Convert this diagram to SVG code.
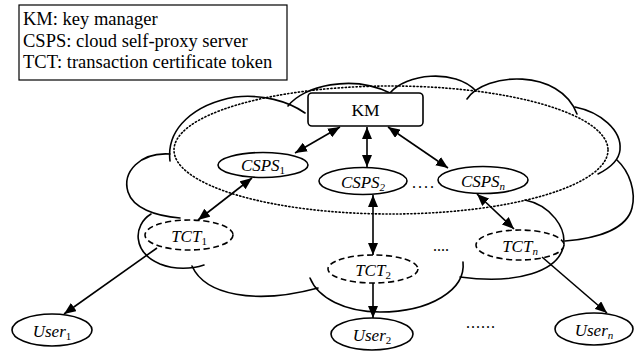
<svg xmlns="http://www.w3.org/2000/svg" width="637" height="354" viewBox="0 0 637 354" font-family="Liberation Serif, 'Times New Roman', serif">
  <style>
    .cloud { fill: none; stroke: #000; stroke-width: 1.6; stroke-linecap: round; }
    .zone { fill: none; stroke: #000; stroke-width: 1.6; stroke-dasharray: 1.2 2.4; stroke-linecap: round; }
    .node { fill: #fff; stroke: #000; stroke-width: 1.6; }
    .token { fill: #fff; stroke: #000; stroke-width: 1.6; stroke-dasharray: 6 3.5; }
    .edge { fill: none; stroke: #000; stroke-width: 1.6; }
    text { fill: #000; }
    .label { font-size: 17px; font-style: italic; text-anchor: middle; }
    .sub { font-size: 11px; }
    .up { font-style: normal; }
    .legend { font-size: 18.5px; }
    .dots { font-size: 16px; }
  </style>
  <defs>
    <marker id="head" markerUnits="userSpaceOnUse" markerWidth="12" markerHeight="10" refX="12" refY="5" orient="auto-start-reverse">
      <path d="M0,0 L12,5 L0,10 z" fill="#000"/>
    </marker>
  </defs>

  <!-- legend -->
  <g id="legend">
    <rect x="19" y="5" width="268" height="75" fill="#fff" stroke="#000" stroke-width="1.2"/>
    <text class="legend" x="23" y="25">KM: key manager</text>
    <text class="legend" x="23" y="47">CSPS: cloud self-proxy server</text>
    <text class="legend" x="23" y="68">TCT: transaction certificate token</text>
  </g>

  <!-- cloud outline, one arc per lobe -->
  <g id="cloud">
    <path class="cloud" d="M170,161 C166,128 195,104 235,97 C262,94 288,101 305,113"/>
    <path class="cloud" d="M288,106 C303,86 352,74 390,93"/>
    <path class="cloud" d="M390,93 C405,74 455,68 476,91"/>
    <path class="cloud" d="M467,99 C485,72 560,68 577,114"/>
    <path class="cloud" d="M575,107 C600,112 622,130 620,150 C619,160 610,168 598,174"/>
    <path class="cloud" d="M617,160 C630,172 636,192 632,208 C627,228 600,238 565,241"/>
    <path class="cloud" d="M525,200 C550,205 568,228 563,248 C557,270 520,285 460,277"/>
    <path class="cloud" d="M463,262 C466,290 430,312 380,312 C345,312 318,298 310,278"/>
    <path class="cloud" d="M192,266 C205,295 255,305 318,288"/>
    <path class="cloud" d="M151,214 C133,225 132,252 160,264 C175,270 192,269 204,265"/>
    <path class="cloud" d="M170,154 C140,152 122,172 128,192 C133,208 155,216 180,218"/>
  </g>

  <!-- trusted zone boundary -->
  <ellipse id="zone" class="zone" cx="391" cy="150" rx="217" ry="64"/>

  <!-- nodes -->
  <g id="km">
    <rect class="node" x="308" y="93" width="115" height="33" rx="4"/>
    <text x="365.5" y="116" font-size="17.5" text-anchor="middle">KM</text>
  </g>
  <g id="csps1">
    <ellipse class="node" cx="263" cy="165" rx="45" ry="12.5"/>
    <text class="label" x="263" y="171">CSPS<tspan class="sub up" dy="3">1</tspan></text>
  </g>
  <g id="csps2">
    <ellipse class="node" cx="363" cy="181" rx="44" ry="13.5"/>
    <text class="label" x="363" y="188">CSPS<tspan class="sub" dy="3">2</tspan></text>
  </g>
  <g id="cspsn">
    <ellipse class="node" cx="483" cy="180" rx="45" ry="13.5"/>
    <text class="label" x="483" y="187">CSPS<tspan class="sub" dy="3">n</tspan></text>
  </g>
  <g id="tct1">
    <ellipse class="token" cx="189" cy="235" rx="44" ry="15"/>
    <text class="label" x="189" y="242">TCT<tspan class="sub up" dy="3">1</tspan></text>
  </g>
  <g id="tct2">
    <ellipse class="token" cx="373" cy="269" rx="45" ry="14"/>
    <text class="label" x="373" y="276">TCT<tspan class="sub up" dy="3">2</tspan></text>
  </g>
  <g id="tctn">
    <ellipse class="token" cx="520" cy="245" rx="44" ry="15"/>
    <text class="label" x="520" y="252">TCT<tspan class="sub" dy="3">n</tspan></text>
  </g>
  <g id="user1">
    <ellipse class="node" cx="52" cy="330" rx="40" ry="16"/>
    <text class="label" x="52" y="337">User<tspan class="sub up" dy="3">1</tspan></text>
  </g>
  <g id="user2">
    <ellipse class="node" cx="372" cy="334" rx="41" ry="16"/>
    <text class="label" x="372" y="341">User<tspan class="sub up" dy="3">2</tspan></text>
  </g>
  <g id="usern">
    <ellipse class="node" cx="594" cy="329" rx="39" ry="16"/>
    <text class="label" x="594" y="336">User<tspan class="sub" dy="3">n</tspan></text>
  </g>

  <!-- ellipses between repeated nodes -->
  <g id="gaps">
    <text class="dots" x="412" y="188" letter-spacing="2">....</text>
    <text class="dots" x="433" y="251">....</text>
    <text class="dots" x="466" y="328" letter-spacing="1">......</text>
  </g>

  <!-- connectors -->
  <g id="connectors">
    <line class="edge" x1="340" y1="127" x2="295" y2="153" marker-start="url(#head)" marker-end="url(#head)"/>
    <line class="edge" x1="367" y1="127" x2="367" y2="167" marker-start="url(#head)" marker-end="url(#head)"/>
    <line class="edge" x1="388" y1="127" x2="448" y2="168" marker-start="url(#head)" marker-end="url(#head)"/>
    <line class="edge" x1="252" y1="178" x2="198" y2="220" marker-start="url(#head)" marker-end="url(#head)"/>
    <line class="edge" x1="373" y1="195" x2="373" y2="255" marker-start="url(#head)" marker-end="url(#head)"/>
    <line class="edge" x1="477" y1="194" x2="514" y2="229" marker-start="url(#head)" marker-end="url(#head)"/>
    <line class="edge" x1="157" y1="248" x2="64" y2="314" marker-end="url(#head)"/>
    <line class="edge" x1="373" y1="283" x2="373" y2="318" marker-end="url(#head)"/>
    <line class="edge" x1="542" y1="257" x2="607" y2="313" marker-end="url(#head)"/>
  </g>
</svg>
